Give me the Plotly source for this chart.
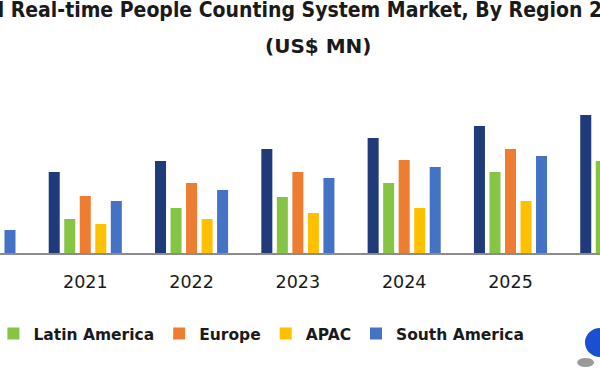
import plotly.graph_objects as go

years = ["2020", "2021", "2022", "2023", "2024", "2025", "2026"]
series_names = ["North America", "Latin America", "Europe", "APAC", "South America"]
north_america = [70, 81, 92, 104, 115, 127, 138]
latin_america = [23, 34, 45, 56, 70, 81, 92]
europe = [45, 57, 70, 81, 93, 104, 115]
apac = [24, 29, 34, 40, 45, 52, 58]
south_america = [23, 52, 63, 75, 86, 97, 109]
colors = ["#1F3B79", "#86C544", "#ED7D31", "#FFC000", "#4472C4"]

title_line1 = "Global Real-time People Counting System Market, By Region 2020-2026"
title_line2 = "(US$ MN)"

values = [north_america, latin_america, europe, apac, south_america]

fig = go.Figure()
for i, (name, vals, col) in enumerate(zip(series_names, values, colors)):
    fig.add_trace(go.Bar(x=years, y=vals, name=name, showlegend=(i > 0),
                         marker=dict(color=col, line=dict(width=0))))

fig.update_layout(
    width=600, height=380,
    paper_bgcolor="white", plot_bgcolor="white",
    margin=dict(l=0, r=0, t=103, b=127, autoexpand=False),
    barmode="group", bargap=0.27, bargroupgap=0.29,
    showlegend=True,
    legend=dict(orientation="h", x=-0.011, xanchor="left", y=-0.54, yanchor="middle",
                font=dict(family="DejaVu Sans", size=15.5, color="#1a1a1a", weight="bold"),
                bgcolor="rgba(0,0,0,0)"),
    title=dict(text=title_line1, x=0.532, xref="paper", xanchor="center",
               y=1 - 10 / 380, yref="container", yanchor="middle",
               font=dict(family="DejaVu Sans Condensed, DejaVu Sans", size=21, color="#1a1a1a", weight="bold")),
    annotations=[dict(text=title_line2, xref="paper", yref="paper", x=0.53, y=(253 - 46) / 150,
                      xanchor="center", yanchor="middle", showarrow=False,
                      font=dict(family="DejaVu Sans", size=20, color="#1a1a1a", weight="bold"))],
    shapes=[
        dict(type="circle", xref="paper", yref="paper", x0=0.962, x1=0.99, y0=-0.76, y1=-0.70,
             fillcolor="#9a9a9a", line=dict(width=0)),
        dict(type="circle", xref="paper", yref="paper", x0=0.975, x1=1.025, y0=-0.693, y1=-0.5,
             fillcolor="#1a4fd0", line=dict(width=0)),
    ],
)
fig.update_xaxes(type="category", range=[0.198, 5.842], showline=True, linecolor="#8c8c8c", linewidth=1.5,
                 ticks="", showgrid=False, ticklabelstandoff=12,
                 tickfont=dict(family="DejaVu Sans", size=17.5, color="#1a1a1a"))
fig.update_yaxes(visible=False, range=[0, 150], showgrid=False)

fig.write_html("out.html", config={"displayModeBar": False},
               post_script="document.body.style.margin='0';document.body.style.overflow='hidden';")
